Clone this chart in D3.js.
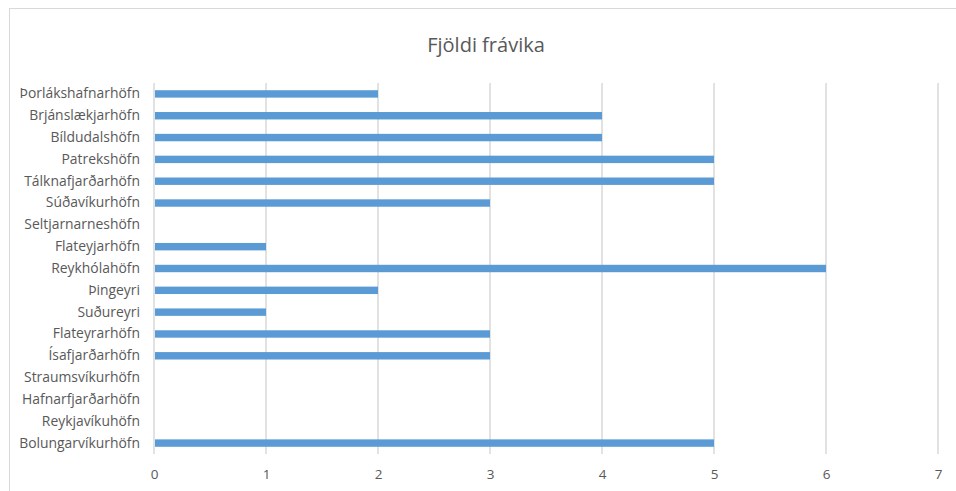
<!DOCTYPE html>
<html lang="en">
<head>
    <meta charset="UTF-8">
    <script src="https://d3js.org/d3.v7.min.js"></script>
    <title>Fjöldi frávika</title>
    <style>
        body { margin: 0; background: #fff; }
        text { font-family: "Open Sans", "Noto Sans", sans-serif; fill: #595959; }
    </style>
</head>
<body>
    <div id="chart"></div>
    <script>
        // gögn, efst til neðst
        var hafnir = ["Þorlákshafnarhöfn", "Brjánslækjarhöfn", "Bíldudalshöfn", "Patrekshöfn",
            "Tálknafjarðarhöfn", "Súðavíkurhöfn", "Seltjarnarneshöfn", "Flateyjarhöfn",
            "Reykhólahöfn", "Þingeyri", "Suðureyri", "Flateyrarhöfn", "Ísafjarðarhöfn",
            "Straumsvíkurhöfn", "Hafnarfjarðarhöfn", "Reykjavíkuhöfn", "Bolungarvíkurhöfn"];
        var fravik = [2, 4, 4, 5, 5, 3, 0, 1, 6, 2, 1, 3, 3, 0, 0, 0, 5];
        var xTicks = [0, 1, 2, 3, 4, 5, 6, 7];
        var titill = "Fjöldi frávika";

        var W = 956, H = 491;
        var margin = { top: 83, right: 18, bottom: 37, left: 154 },
            width = W - margin.left - margin.right,
            height = H - margin.top - margin.bottom;

        var svg = d3.select("#chart").append("svg")
            .attr("width", W).attr("height", H);

        // rammi
        svg.append("rect")
            .attr("x", 9.5).attr("y", 8.5)
            .attr("width", W).attr("height", H)
            .attr("fill", "none").attr("stroke", "#d9d9d9");

        svg.append("text")
            .attr("x", 486).attr("y", 52)
            .attr("text-anchor", "middle")
            .style("font-size", "20px")
            .text(titill);

        var g = svg.append("g")
            .attr("transform", "translate(" + margin.left + "," + margin.top + ")");

        var x = d3.scaleLinear().domain([0, 7]).range([0, 784]);
        var y = d3.scaleBand().domain(hafnir).range([0, height]).paddingInner(0.66).paddingOuter(0.33);

        // lóðréttar línur
        g.selectAll(".grid")
            .data(xTicks)
            .enter().append("line")
            .attr("x1", function (d) { return x(d); })
            .attr("x2", function (d) { return x(d); })
            .attr("y1", 0).attr("y2", height)
            .attr("stroke", "#d9d9d9")
            .attr("stroke-width", 1.5);

        g.selectAll(".bar")
            .data(hafnir)
            .enter().append("rect")
            .attr("x", x(0) + 1)
            .attr("y", function (d) { return y(d); })
            .attr("width", function (d, i) { return Math.max(0, x(fravik[i]) - x(0) - 1); })
            .attr("height", y.bandwidth())
            .attr("fill", "#5b9bd5");

        var xAxis = d3.axisBottom(x).tickValues(xTicks).tickFormat(d3.format("d")).tickSize(0).tickPadding(15);
        var xg = g.append("g")
            .attr("transform", "translate(0," + height + ")")
            .call(xAxis);
        xg.select(".domain").remove();
        xg.selectAll("text").style("font-size", "13.5px");

        var yAxis = d3.axisLeft(y).tickSize(0).tickPadding(14);
        var yg = g.append("g").call(yAxis);
        yg.select(".domain").remove();
        yg.selectAll("text").style("font-size", "13.9px");
    </script>
</body>
</html>
